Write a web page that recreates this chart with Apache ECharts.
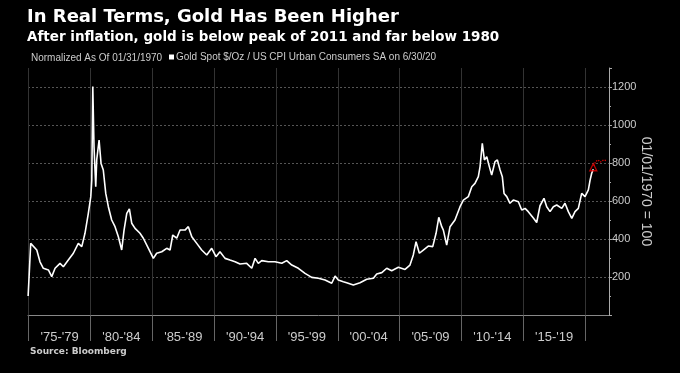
<!DOCTYPE html>
<html><head><meta charset="utf-8">
<script src="https://cdn.jsdelivr.net/npm/echarts@6/dist/echarts.min.js"></script>
<style>html,body{margin:0;padding:0;background:#000}#c{width:680px;height:373px}</style>
</head><body><div id="c"></div>
<script>
// Gold spot / US CPI, normalized to 100 at 01/1970 (decimal years)
const years = [1974.95,1975.16,1975.29,1975.65,1975.91,1976.18,1976.59,1976.86,1977.13,1977.53,1977.80,1978.20,1978.61,1979.01,1979.29,1979.55,1979.82,1980.02,1980.10,1980.18,1980.28,1980.42,1980.50,1980.69,1980.85,1981.03,1981.23,1981.44,1981.71,1981.98,1982.25,1982.52,1982.71,1982.93,1983.14,1983.33,1983.60,1984.00,1984.27,1984.68,1985.08,1985.35,1985.76,1986.16,1986.43,1986.65,1986.97,1987.24,1987.64,1987.91,1988.19,1988.59,1988.99,1989.40,1989.80,1990.15,1990.47,1990.88,1991.28,1991.69,1992.09,1992.63,1993.04,1993.31,1993.57,1993.85,1994.38,1994.92,1995.47,1995.87,1996.28,1996.81,1997.35,1997.89,1998.43,1998.97,1999.51,1999.78,2000.04,2000.45,2000.72,2001.26,2001.80,2002.34,2002.88,2003.15,2003.56,2003.96,2004.36,2004.90,2005.44,2005.84,2006.11,2006.33,2006.60,2006.92,2007.32,2007.68,2007.95,2008.17,2008.41,2008.54,2008.81,2009.08,2009.48,2009.89,2010.16,2010.56,2010.84,2011.10,2011.37,2011.51,2011.69,2011.86,2012.05,2012.26,2012.45,2012.72,2012.91,2013.13,2013.31,2013.45,2013.67,2013.93,2014.20,2014.61,2014.88,2015.15,2015.41,2015.82,2016.09,2016.36,2016.68,2016.90,2017.17,2017.44,2017.71,2018.12,2018.38,2018.65,2018.93,2019.19,2019.46,2019.73,2020.00,2020.27,2020.41,2020.54,2020.67];
const values = [100,377,382,342,280,246,237,202,246,272,254,289,325,377,360,430,535,623,710,1202,886,675,816,921,798,763,640,570,500,465,412,342,447,535,558,483,456,430,404,351,298,325,333,351,342,421,404,447,447,465,412,377,342,316,351,307,333,298,289,280,268,272,246,298,272,286,280,280,272,286,263,246,219,198,193,184,167,205,184,175,170,158,170,188,193,216,223,246,233,251,240,263,316,386,325,342,363,360,430,514,465,447,368,465,500,570,605,623,675,693,728,781,904,816,833,781,737,807,816,763,728,640,623,588,605,596,553,561,544,510,487,575,614,570,544,570,579,561,588,544,509,544,561,640,623,658,710,746,767];
// red dotted tail drawn to the right of the last value
const tailYears = [2020.72,2020.85,2021.05,2021.25,2021.5,2021.75];
const tailValues = [785,807,816,805,816,812];
// x axis: separators and 5-year bucket labels
const tickYears = [1975,1980,1985,1990,1995,2000,2005,2010,2015,2020];
const bucketCenters = [1977.5,1982.5,1987.5,1992.5,1997.5,2002.5,2007.5,2012.5,2017.5];
const bucketLabels = ["'75-'79","'80-'84","'85-'89","'90-'94","'95-'99","'00-'04","'05-'09","'10-'14","'15-'19"];
const seriesName = 'Gold Spot $/Oz / US CPI Urban Consumers SA on 6/30/20';

const chart = echarts.init(document.getElementById('c'), null, {renderer: 'canvas'});
const data = years.map((y, i) => [y, values[i]]);
const tail = tailYears.map((y, i) => [y, tailValues[i]]);
const last = [years[years.length - 1], values[values.length - 1]];

chart.setOption({
  backgroundColor: '#000',
  animation: false,
  title: [
    {text: 'In Real Terms, Gold Has Been Higher', left: 27, top: 7, padding: 0,
     textStyle: {color: '#fff', fontFamily: 'DejaVu Sans', fontWeight: 'bold', fontSize: 18, lineHeight: 21}},
    {text: 'After inflation, gold is below peak of 2011 and far below 1980', left: 27, top: 29, padding: 0,
     textStyle: {color: '#fff', fontFamily: 'DejaVu Sans', fontWeight: 'bold', fontSize: 13.5, lineHeight: 16}},
    {text: 'Normalized As Of 01/31/1970', left: 31, top: 52, padding: 0,
     textStyle: {color: '#ccc', fontFamily: 'Liberation Sans', fontWeight: 'normal', fontSize: 10, lineHeight: 12}},
    {text: 'Source: Bloomberg', left: 30, top: 346, padding: 0,
     textStyle: {color: '#ccc', fontFamily: 'DejaVu Sans', fontWeight: 'bold', fontSize: 9, lineHeight: 12}}
  ],
  legend: {
    data: [seriesName], left: 169, top: 52, padding: 0,
    itemWidth: 5, itemHeight: 5, icon: 'rect',
    textStyle: {color: '#ccc', fontFamily: 'Liberation Sans', fontSize: 10, padding: [0, 0, 0, -3]},
    selectedMode: false
  },
  grid: {left: 28, right: 71, top: 68, bottom: 58},
  xAxis: {
    type: 'value', min: 1974.94, max: 2021.94,
    axisLine: {show: true, lineStyle: {color: '#888', width: 1}},
    axisTick: {show: true, inside: false, length: 26, customValues: tickYears, lineStyle: {color: '#666'}},
    axisLabel: {
      customValues: bucketCenters, color: '#ccc', fontFamily: 'Liberation Sans', fontSize: 13, margin: 16,
      formatter: v => { const i = bucketCenters.findIndex(c => Math.abs(c - v) < 0.01); return i >= 0 ? bucketLabels[i] : ''; }
    },
    splitLine: {show: true, lineStyle: {color: '#333', width: 1}}
  },
  yAxis: {
    type: 'value', position: 'right', min: 0, max: 1300, interval: 200,
    axisLine: {show: true, lineStyle: {color: '#aaa', width: 1}},
    axisTick: {show: true, length: 3, lineStyle: {color: '#aaa'}},
    minorTick: {show: true, splitNumber: 2, length: 2, lineStyle: {color: '#aaa'}},
    axisLabel: {color: '#ccc', fontFamily: 'Liberation Sans', fontSize: 11, margin: 3, showMinLabel: false, showMaxLabel: false,
      formatter: v => String(v)},
    splitLine: {show: true, showMinLine: false, showMaxLine: false, lineStyle: {color: '#555', type: [2, 2], width: 1}},
    name: '01/01/1970 = 100', nameLocation: 'middle', nameRotate: -90, nameGap: 30, nameMoveOverlap: false,
    nameTextStyle: {color: '#ccc', fontFamily: 'Liberation Sans', fontSize: 14}
  },
  series: [
    {name: seriesName, type: 'line', data: data, showSymbol: false, symbol: 'none',
     lineStyle: {color: '#fff', width: 1.6}, itemStyle: {color: '#fff'}, z: 3},
    {name: 'tail', type: 'line', data: tail, showSymbol: false, symbol: 'none',
     lineStyle: {color: '#d00', width: 1.3, type: 'dotted'}, z: 2},
    {name: 'last', type: 'scatter', data: [last], symbol: 'triangle', symbolSize: 7, symbolOffset: [0, -2],
     itemStyle: {color: 'rgba(0,0,0,0)', borderColor: '#e00', borderWidth: 1.3}, z: 4}
  ]
});
</script>
</body></html>
